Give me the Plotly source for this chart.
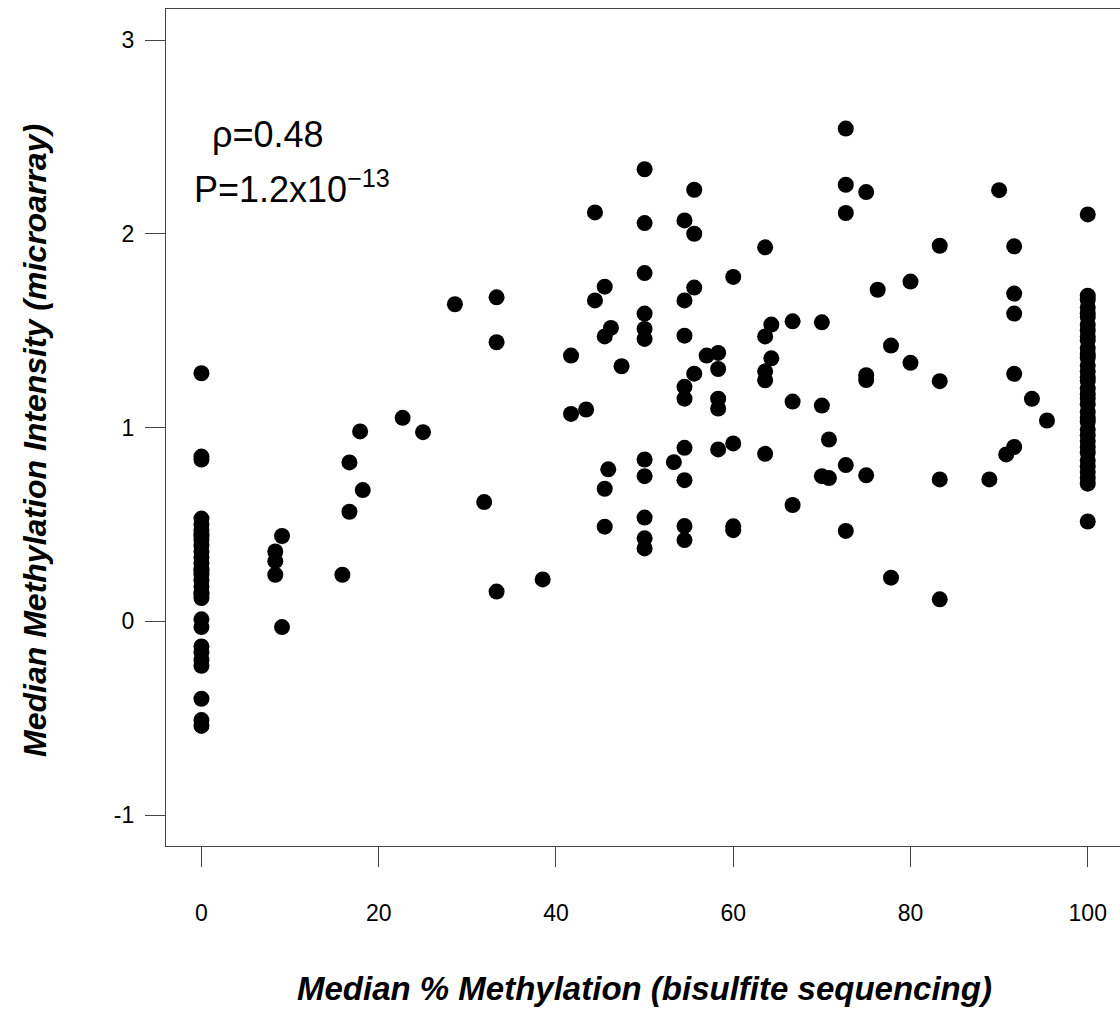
import plotly.graph_objects as go

# Median % methylation from bisulfite sequencing for each region
pct_methylation = (
    [0] * 30
    + [8.33, 8.33, 8.33, 9.09, 9.09,
       15.9, 16.7, 18.2, 16.7, 17.9, 22.7, 25.0, 28.6, 33.3, 33.3, 31.9, 33.3, 38.5,
       50.0, 55.6, 44.4, 50.0, 54.5, 55.6, 63.6, 50.0, 60.0, 45.5, 44.4, 55.6, 54.5,
       50.0, 50.0, 50.0, 46.2, 45.5, 54.5, 41.7, 47.4, 57.0, 58.3, 58.3, 55.6, 54.5,
       63.6, 64.3, 64.3, 63.6, 63.6,
       54.5, 58.3, 58.3, 41.7, 43.4, 54.5, 58.3, 60.0, 63.6, 50.0, 53.3, 50.0, 54.5,
       45.9, 45.5, 45.5, 50.0, 50.0, 50.0, 54.5, 54.5, 60.0, 60.0,
       72.7, 72.7, 75.0, 72.7, 90.0, 83.3, 91.7, 76.3, 80.0, 91.7, 91.7, 66.7, 70.0,
       77.8, 80.0,
       75.0, 75.0, 83.3, 91.7, 93.7, 66.7, 70.0, 70.8, 72.7, 70.0, 70.8, 75.0, 83.3,
       88.9, 91.7, 90.8, 66.7, 72.7, 77.8, 83.3, 95.4]
    + [100] * 35
)

# Median methylation intensity from the microarray, same order
intensity = (
    [1.28, 0.85, 0.835, 0.53, 0.50, 0.47, 0.45, 0.42, 0.39, 0.36, 0.33, 0.30, 0.27,
     0.24, 0.21, 0.18, 0.15, 0.12, 0.01, -0.03, -0.13, -0.16, -0.20, -0.23, -0.40,
     -0.51, -0.54, 0.44, 0.26, 0.14]
    + [0.36, 0.31, 0.24, 0.44, -0.03,
       0.24, 0.565, 0.677, 0.82, 0.98, 1.05, 0.976, 1.636, 1.672, 1.44, 0.615, 0.153, 0.216,
       2.333, 2.227, 2.11, 2.055, 2.069, 2.0, 1.93, 1.797, 1.777, 1.727, 1.656, 1.722, 1.656,
       1.588, 1.509, 1.457, 1.514, 1.47, 1.474, 1.371, 1.316, 1.371, 1.385, 1.302, 1.278, 1.21,
       1.47, 1.531, 1.357, 1.29, 1.244,
       1.149, 1.149, 1.098, 1.07, 1.093, 0.895, 0.887, 0.918, 0.864, 0.835, 0.821, 0.749, 0.728,
       0.784, 0.684, 0.488, 0.535, 0.428, 0.376, 0.491, 0.419, 0.47, 0.49,
       2.543, 2.253, 2.215, 2.107, 2.225, 1.938, 1.935, 1.711, 1.753, 1.691, 1.588, 1.548, 1.543,
       1.423, 1.334,
       1.27, 1.245, 1.239, 1.277, 1.148, 1.134, 1.113, 0.938, 0.806, 0.749, 0.739, 0.753, 0.732,
       0.732, 0.9, 0.861, 0.6, 0.466, 0.225, 0.113, 1.036]
    + [2.10, 0.515, 1.68, 1.66, 1.62, 1.59, 1.57, 1.53, 1.50, 1.47, 1.45, 1.41, 1.38,
       1.36, 1.32, 1.29, 1.26, 1.24, 1.20, 1.17, 1.15, 1.12, 1.08, 1.05, 1.03, 0.99,
       0.96, 0.93, 0.90, 0.87, 0.83, 0.80, 0.77, 0.74, 0.71]
)

x_ticks = [0, 20, 40, 60, 80, 100]
y_ticks = [-1, 0, 1, 2, 3]

rho_label = "\u03c1=0.48"
p_label = "P=1.2x10<sup>\u221213</sup>"

FONT = "Liberation Sans, Arial, Helvetica, sans-serif"
LINE = "#444444"

fig = go.Figure()
fig.add_trace(go.Scatter(
    x=pct_methylation, y=intensity, mode="markers",
    marker=dict(color="black", size=16, line=dict(width=0)),
    hoverinfo="x+y", showlegend=False,
))

fig.update_layout(
    width=1120, height=1012,
    margin=dict(l=166, r=0, t=9, b=166, pad=0),
    paper_bgcolor="white", plot_bgcolor="white",
    font=dict(family=FONT, color="black", size=23),
    xaxis=dict(
        range=[-4, -4 + 954 / 8.863], tickvals=x_ticks, ticktext=[str(v) for v in x_ticks],
        showgrid=False, zeroline=False, showline=True, mirror=True,
        linecolor=LINE, linewidth=1.2, ticks="outside", ticklen=20, tickwidth=1.2,
        tickcolor=LINE, ticklabelstandoff=26, tickfont=dict(size=23),
    ),
    yaxis=dict(
        range=[-1.16, 3.16], tickvals=y_ticks, ticktext=[str(v) for v in y_ticks],
        showgrid=False, zeroline=False, showline=True, mirror=False,
        linecolor=LINE, linewidth=1.2, ticks="outside", ticklen=20, tickwidth=1.2,
        tickcolor=LINE, ticklabelstandoff=6, tickfont=dict(size=23),
    ),
    annotations=[
        dict(text=rho_label, x=7.5, y=2.51, xref="x", yref="y", showarrow=False,
             xanchor="center", yanchor="middle", font=dict(size=36)),
        dict(text=p_label, x=-1.1, y=2.24, xref="x", yref="y", showarrow=False,
             xanchor="left", yanchor="middle", font=dict(size=36)),
        dict(text="<b><i>Median % Methylation (bisulfite sequencing)</i></b>",
             x=0.502, y=-0.1697, xref="paper", yref="paper", showarrow=False,
             xanchor="center", yanchor="middle", font=dict(size=33)),
        dict(text="<b><i>Median Methylation Intensity (microarray)</i></b>",
             x=-0.1373, y=0.484, xref="paper", yref="paper", showarrow=False,
             xanchor="center", yanchor="middle", textangle=-90, font=dict(size=32)),
    ],
)

fig.write_html("out.html")
